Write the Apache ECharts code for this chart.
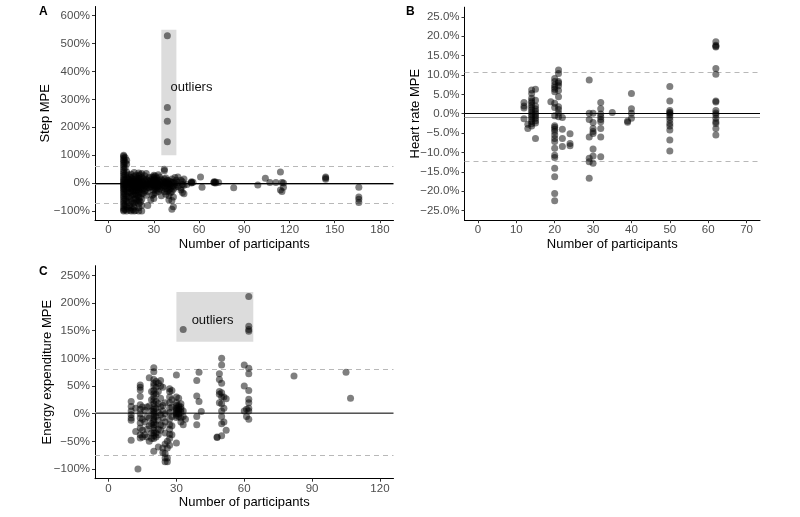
<!DOCTYPE html>
<html><head><meta charset="utf-8">
<script src="https://cdn.jsdelivr.net/npm/echarts@6/dist/echarts.min.js"></script>
<style>html,body{margin:0;padding:0;background:#fff}#c{width:800px;height:517px}</style>
</head><body><div id="c"></div>
<script>
// ---------- DATA ----------
// Panel A: Step MPE (%), grouped by number of participants
const stepGroups = [
  [10, [100, 96, 90, 84, 78, 72, 65, 58, 50, 42, 35, 28, 20, 14, 8, 3, -2, -6, -10, -15, -20, -26, -32, -38, -45, -52, -60, -67, -74, -82, -90, -96, -100]],
  [11, [92, 75, 55, 30, 12, -5, -22, -40, -58, -78, -95]],
  [12, [82, 68, 40, 18, 2, -12, -28, -45, -65, -85, -100]],
  [13, [30, 15, 5, -5, -18, -32, -50, -70, -90]],
  [14, [22, 10, 0, -8, -20, -35, -55, -80, -97]],
  [15, [32, 20, 8, -2, -10, -20, -32, -48, -65, -88, -100]],
  [16, [15, 5, -5, -15, -28, -42, -72, -95]],
  [17, [38, 24, 12, 2, -8, -18, -28, -42, -58, -72, -86, -100]],
  [18, [28, 14, 4, -6, -16, -26, -38, -52, -68, -98]],
  [19, [18, 6, -4, -14, -26, -44, -62]],
  [20, [36, 26, 16, 8, 2, -4, -10, -18, -28, -38, -50, -62, -75, -88, -100]],
  [21, [30, 12, -4, -18, -34, -52, -68]],
  [22, [34, 20, 6, -4, -14, -24, -38, -58, -80, -100]],
  [23, [16, 3, -9, -20, -36]],
  [24, [26, 10, -2, -12, -28]],
  [25, [34, 14, 2, -8, -20, -44]],
  [26, [10, -4, -16, -30, -80]],
  [27, [20, 6, -6, -18]],
  [28, [12, 0, -12, -60]],
  [29, [22, 6, -4, -14, -44]],
  [30, [28, 22, 16, 10, 4, -2, -8, -15, -25, -40, -55]],
  [31, [25, 12, 5, -2, -10, -20, -35]],
  [32, [18, 8, 0, -6, -14, -26]],
  [33, [30, 10, -2, -12, -30]],
  [34, [22, 5, -8, -20]],
  [35, [12, 0, -10, -24, -45]],
  [36, [8, -4, -15]],
  [37, [50, 44, 15, 2, -10, -30]],
  [38, [18, 5, -5, -20, -40]],
  [39, [528, 271, 222, 148, 10, 0, -8, -18, -30]],
  [40, [8, -2, -12, -25, -45, -60]],
  [41, [5, -5, -20, -35]],
  [42, [15, 2, -10, -30, -62, -94]],
  [43, [3, -10, -22, -50, -85]],
  [44, [20, 0, -15]],
  [45, [10, -5]],
  [46, [22, 2, -12]],
  [48, [10, -18, -25]],
  [49, [5, -5, -34]],
  [50, [15, -8, -38]],
  [52, [-5]],
  [55, [5, 2, 0]],
  [56, [3]],
  [61, [22]],
  [62, [-15]],
  [70, [5, 3, 1]],
  [71, [4, 0]],
  [73, [2]],
  [83, [-17]],
  [99, [-7]],
  [104, [17]],
  [107, [2]],
  [111, [2]],
  [114, [40, -25]],
  [115, [2, -30]],
  [116, [-15, 0]],
  [144, [22, 18, 14]],
  [166, [-15, -50, -58, -70]]
];
// Panel B: Heart rate MPE (%)
const hrGroups = [
  [12, [2.9, 2.0, 1.5, -1.3]],
  [13, [-2.7, -3.8]],
  [14, [6.1, 5.2, 4.0, 3.3, 2.8, 2.2, 1.6, 1.0, 0.4, -0.2, -0.8, -1.4, -2.0, -2.6, -3.2]],
  [15, [6.3, 3.5, 2.0, 1.2, 0.6, 0.0, -0.6, -1.2, -1.8, -2.4, -6.4]],
  [19, [3.1]],
  [20, [9.1, 8.3, 7.4, 6.8, 6.3, 5.7, 2.7, 1.6, -0.5, -3.1, -3.5, -4.0, -4.6, -5.5, -6.4, -7.2, -8.9, -10.7, -11.3, -14.1, -16.3, -20.6, -22.5]],
  [21, [11.3, 10.4, 8.3, 7.9, 7.2, 6.0, 4.4, 1.8, 1.1, 0.1, -0.8]],
  [22, [-1.0, -4.0, -6.4, -8.5]],
  [24, [-5.2, -7.7, -8.3]],
  [29, [8.7, 0.1, -1.5, -6.0, -11.5, -12.4, -16.7]],
  [30, [0.1, -2.3, -3.8, -4.6, -5.1, -9.1, -10.9, -12.8]],
  [32, [2.9, 1.3, -0.1, -0.8, -1.5, -2.1, -3.8, -6.0, -11.1]],
  [35, [0.3]],
  [39, [-1.9, -2.2]],
  [40, [5.2, 1.3, 0.1, -1.2]],
  [50, [7.0, 3.3, 0.8, 0.4, 0.1, -0.3, -0.9, -1.6, -2.5, -3.2, -4.2, -6.8, -9.6]],
  [62, [18.6, 17.7, 17.4, 17.2, 11.7, 10.2, 3.3, 3.0, 0.8, 0.2, -0.3, -1.2, -2.1, -2.5, -3.8, -5.5]]
];
// Panel C: Energy expenditure MPE (%)
const eeGroups = [
  [10, [22, 13, 5, -2, -8, -12, -48]],
  [12, [10, -32]],
  [13, [-100]],
  [14, [52, 48, 43, 31, 16, 8, 0, -8, -17, -26, -38, -44]],
  [15, [12, -10, -30, -42]],
  [16, [6, -15, -38]],
  [17, [12, -5, -28, -42]],
  [18, [65, 14, -8, -22, -50]],
  [19, [40, 25, 5, -18, -35, -45]],
  [20, [83, 76, 62, 55, 50, 42, 36, 30, 24, 18, 12, 8, 4, 0, -4, -8, -12, -16, -20, -25, -30, -35, -40, -45, -68]],
  [21, [58, 48, 35, 22, 10, -5, -20, -35, -42]],
  [22, [55, 40, 18, 2, -12, -28, -38, -60]],
  [23, [60, 50, 28, 12, -2, -20, -30]],
  [24, [48, 15, 5, -8, -22, -62, -70]],
  [25, [20, 0, -15, -35, -55, -72, -80, -87]],
  [26, [-50, -62, -80, -87]],
  [27, [45, 40, 30, 20, 10, 2, -10, -20, -28, -37, -45, -57]],
  [28, [42, 25, 12, -5, -22, -38]],
  [30, [70, 30, 20, 15, 10, 8, 5, 2, 0, -3, -7, -53]],
  [31, [28, 15, 12, 8, 5, 0, -5]],
  [32, [18, 12, 8, 3, -8, -15]],
  [33, [152, 5, -5, -20]],
  [34, [-10]],
  [39, [60, 32, -5, -20]],
  [40, [75, 22]],
  [41, [4]],
  [48, [-43, -42]],
  [49, [72, 62, 40, 35, 20]],
  [50, [100, 88, 55, 38, 30, 18, 5, -5, -18, -40]],
  [51, [30, 10, -15]],
  [52, [27, -30]],
  [60, [88, 50, 5]],
  [61, [8, -5]],
  [62, [212, 158, 152, 149, 82, 72, 42, 26, 20, 10, 5, -10]],
  [82, [68]],
  [105, [75]],
  [107, [28]]
];
// Reference lines: [mean, upper limit, lower limit]
const stepLines = [-5.5, 62, -73];
const hrLines = [-0.8, 10.7, -12.3];
const eeLines = [1.8, 79.5, -75.9];
// Outlier boxes [[x0,y0],[x1,y1]] and label anchors [x,y]
const stepBox = [[35, 100], [45, 550]];
const stepLabel = [55, 344];
const eeBox = [[30, 130], [64, 220]];
const eeLabel = [46, 169];
// Axis ticks
const stepXTicks = [0, 30, 60, 90, 120, 150, 180];
const stepYTicks = [-100, 0, 100, 200, 300, 400, 500, 600];
const hrXTicks = [0, 10, 20, 30, 40, 50, 60, 70];
const hrYTicks = [-25, -20, -15, -10, -5, 0, 5, 10, 15, 20, 25];
const eeXTicks = [0, 30, 60, 90, 120];
const eeYTicks = [-100, -50, 0, 50, 100, 150, 200, 250];

// ---------- BUILD ----------
const FONT = '"Liberation Sans", Arial, Helvetica, sans-serif';
function flat(groups) { const out = []; groups.forEach(g => g[1].forEach(v => out.push([g[0], v]))); return out; }
const minus = s => String(s).replace('-', '\u2212');

function xAxis(idx, min, max, ticks) {
  return {
    type: 'value', gridIndex: idx, min, max,
    name: 'Number of participants', nameLocation: 'middle', nameGap: 17.5, nameMoveOverlap: false,
    nameTextStyle: { color: '#000', fontSize: 13, fontFamily: FONT },
    axisLine: { show: true, onZero: false, lineStyle: { color: '#000', width: 1 } },
    axisTick: { show: true, length: 3, customValues: ticks, lineStyle: { color: '#333' } },
    axisLabel: { customValues: ticks, color: '#4d4d4d', fontSize: 11.5, fontFamily: FONT, margin: 4 },
    splitLine: { show: false }
  };
}
function yAxis(idx, min, max, ticks, name, fmt, gap) {
  return {
    type: 'value', gridIndex: idx, min, max,
    name, nameLocation: 'middle', nameGap: gap, nameRotate: 90, nameMoveOverlap: false,
    nameTextStyle: { color: '#000', fontSize: 13, fontFamily: FONT },
    axisLine: { show: true, onZero: false, lineStyle: { color: '#000', width: 1 } },
    axisTick: { show: true, length: 3, customValues: ticks, lineStyle: { color: '#333' } },
    axisLabel: { customValues: ticks, color: '#4d4d4d', fontSize: 11.5, fontFamily: FONT, margin: 5, formatter: fmt },
    splitLine: { show: false }
  };
}
function points(idx, groups, lines, zeroColor) {
  return {
    type: 'scatter', xAxisIndex: idx, yAxisIndex: idx, data: flat(groups),
    symbolSize: 7, itemStyle: { color: '#000', opacity: 0.5 }, z: 3, silent: true,
    markLine: {
      silent: true, symbol: ['none', 'none'], label: { show: false }, z: 2,
      data: [
        { yAxis: lines[0], lineStyle: { color: '#a0a0a0', width: 1, type: 'solid' } },
        { yAxis: 0, lineStyle: { color: zeroColor, width: 1.2, type: 'solid' } },
        { yAxis: lines[1], lineStyle: { color: '#b8b8b8', width: 1, type: [5, 4] } },
        { yAxis: lines[2], lineStyle: { color: '#b8b8b8', width: 1, type: [5, 4] } }
      ]
    }
  };
}
function box(idx, b) {
  return {
    type: 'scatter', xAxisIndex: idx, yAxisIndex: idx, data: [], z: 1, silent: true,
    markArea: { silent: true, itemStyle: { color: '#dcdcdc' }, data: [[{ coord: b[0] }, { coord: b[1] }]] }
  };
}
function label(idx, p) {
  return {
    type: 'scatter', xAxisIndex: idx, yAxisIndex: idx, data: [p], symbolSize: 1, z: 4, silent: true,
    itemStyle: { color: 'rgba(0,0,0,0)' },
    label: { show: true, position: 'inside', formatter: 'outliers', color: '#111', opacity: 1,
      textBorderWidth: 0, fontSize: 13, fontFamily: FONT }
  };
}

const option = {
  animation: false,
  backgroundColor: '#fff',
  grid: [
    { left: 95, top: 6.5, width: 298.5, height: 213.7 },
    { left: 464.5, top: 7.2, width: 295.5, height: 213 },
    { left: 95, top: 265.7, width: 298.5, height: 213 }
  ],
  xAxis: [
    xAxis(0, -9, 189, stepXTicks),
    xAxis(1, -3.5, 73.5, hrXTicks),
    xAxis(2, -6, 126, eeXTicks)
  ],
  yAxis: [
    yAxis(0, -133, 633, stepYTicks, 'Step MPE', v => minus(v) + '%', 43),
    yAxis(1, -27.5, 27.5, hrYTicks, 'Heart rate MPE', v => minus(v.toFixed(1)) + '%', 43),
    yAxis(2, -117.5, 267.5, eeYTicks, 'Energy expenditure MPE', v => minus(v) + '%', 41)
  ],
  series: [
    box(0, stepBox), points(0, stepGroups, stepLines, '#000'), label(0, stepLabel),
    points(1, hrGroups, hrLines, '#000'),
    box(2, eeBox), points(2, eeGroups, eeLines, '#555'), label(2, eeLabel)
  ],
  graphic: [
    { type: 'text', left: 39, top: 6, style: { text: 'A', font: 'bold 12px ' + FONT, fill: '#000' } },
    { type: 'text', left: 406, top: 6, style: { text: 'B', font: 'bold 12px ' + FONT, fill: '#000' } },
    { type: 'text', left: 39, top: 266, style: { text: 'C', font: 'bold 12px ' + FONT, fill: '#000' } }
  ]
};
const chart = echarts.init(document.getElementById('c'), null, { renderer: 'canvas' });
chart.setOption(option);
</script></body></html>
